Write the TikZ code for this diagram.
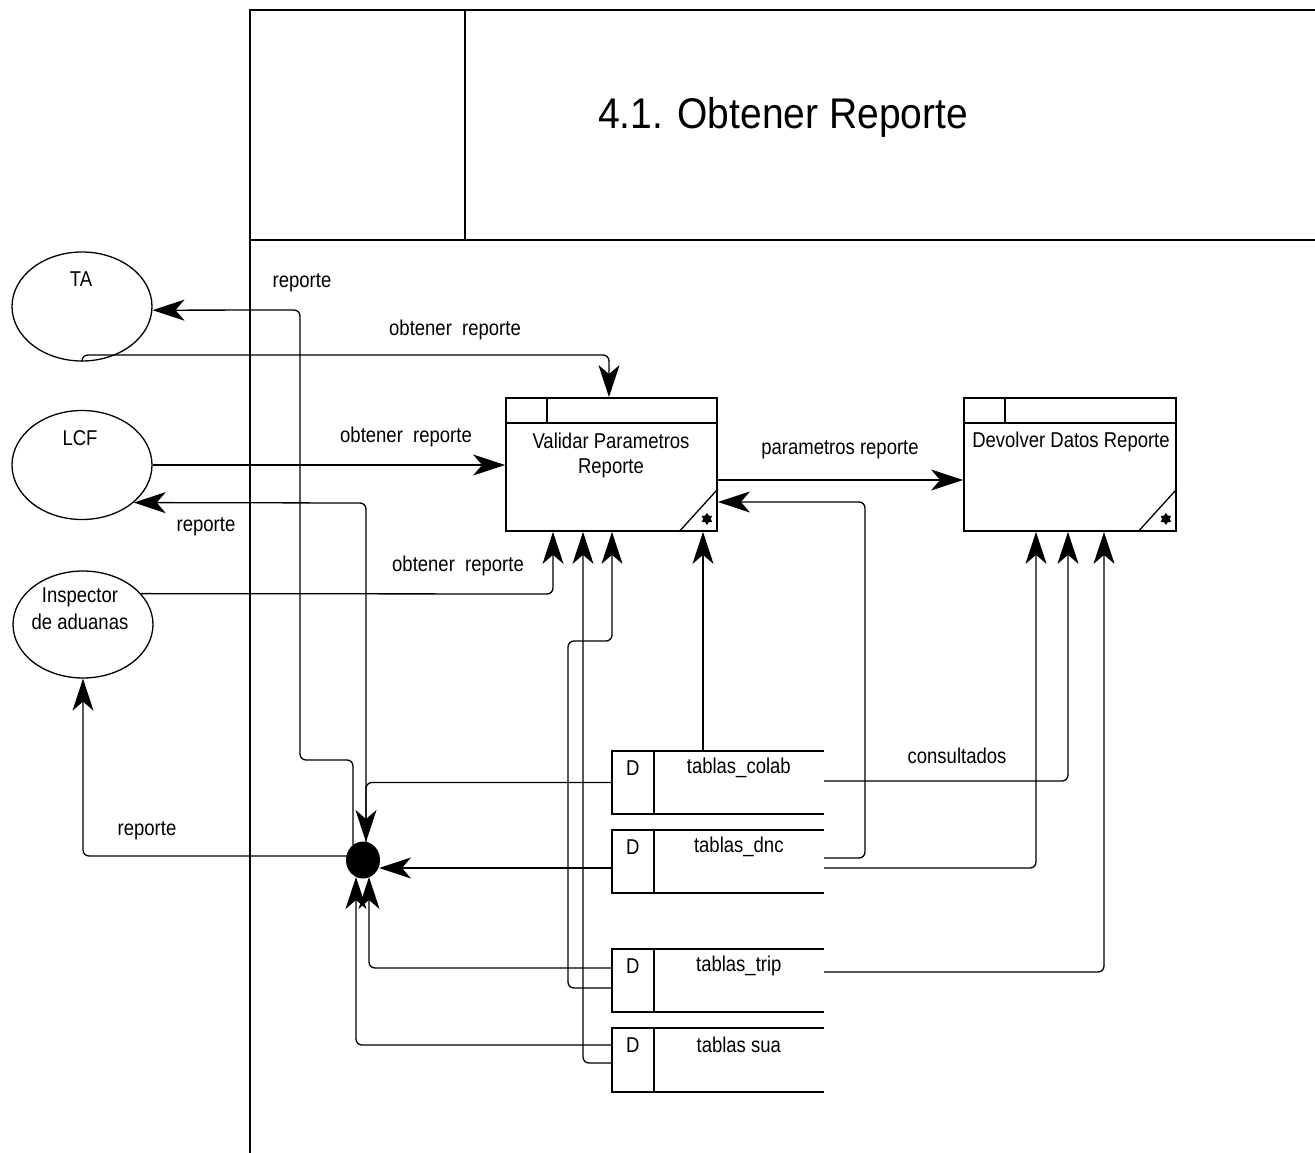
\documentclass[tikz,border=0pt]{standalone}
\usepackage{fontspec}
\setmainfont{Liberation Sans}
\usepackage{graphicx}
\usetikzlibrary{arrows.meta,shapes.geometric,calc}
% slightly taller glyphs, as in the original drawing tool
\newcommand{\tallt}[1]{\scalebox{1}[1.16]{#1}}
\tikzset{
  lbl/.style={font=\fontsize{18.5}{22}\selectfont, inner sep=0pt},
  flow/.style={line width=1.3pt, rounded corners=6pt, -{Stealth[length=32pt,width=21pt,inset=9pt]}},
  entity/.style={ellipse, draw, line width=1.3pt, minimum width=140pt, minimum height=109pt, inner sep=0pt},
  procbox/.style={rectangle, draw, line width=1.8pt, minimum width=211pt, minimum height=133pt, inner sep=0pt},
  procline/.style={line width=1.8pt},
  storebox/.style={rectangle, minimum width=212pt, minimum height=63pt, inner sep=0pt},
  storeline/.style={line width=1.8pt},
  frameline/.style={line width=2.2pt},
  junction/.style={circle, fill=black, minimum size=35pt, inner sep=0pt},
  cornerstar/.style={star, star points=6, star point ratio=1.6, fill=black, minimum size=12pt, inner sep=0pt},
}
\begin{document}
\begin{tikzpicture}[x=1pt, y=-1pt]
\useasboundingbox (0,0) rectangle (1315,1153);

% frame and title block
\draw[frameline] (250,1153) -- (250,10) -- (1315,10);
\draw[frameline] (465,10) -- (465,240);
\draw[frameline] (250,240) -- (1315,240);
\node[font=\fontsize{39}{44}\selectfont, inner sep=0pt] (title) at (783,117) {\scalebox{1}[1.1]{4.1. Obtener Reporte}};

% external entities
\node[entity] (TA)   at (82,306.5) {};
\node[entity] (LCF)  at (82,465) {};
\node[entity, minimum height=107pt] (Insp) at (83,624.5) {};
\node[lbl] (tTA)   at (81,279) {\tallt{TA}};
\node[lbl] (tLCF)  at (80,438) {\tallt{LCF}};
\node[lbl] (tIns1) at (80,597) {\tallt{Inspector}};
\node[lbl] (tIns2) at (80,622) {\tallt{de aduanas}};

% processes
\node[procbox] (vp) at (611.5,464.5) {};
\node[procbox, minimum width=212pt] (dd) at (1070,464.5) {};
\foreach \p in {vp,dd}{
  \draw[procline] ($(\p.north west)+(0,26)$) -- ($(\p.north east)+(0,26)$);
  \draw[procline] ($(\p.north west)+(42,0)$) -- ($(\p.north west)+(42,26)$);
  \draw[line width=1.3pt] ($(\p.south east)+(-39,0)$) -- ($(\p.south east)+(0,-43)$);
  \node[cornerstar] at ($(\p.south east)+(-11,-13)$) {};
}
\node[lbl] (tvp1) at (611,441) {\tallt{Validar Parametros}};
\node[lbl] (tvp2) at (611,468) {\tallt{Reporte}};
\node[lbl] (tdd)  at (1071,442) {\tallt{Devolver Datos Reporte}};

% data stores
\node[storebox] (colab) at (718,782.5) {};
\node[storebox] (dnc)   at (718,861.5) {};
\node[storebox] (trip)  at (718,980.5) {};
\node[storebox] (sua)   at (718,1060) {};
\foreach \s/\t in {colab/tablas\_colab, dnc/tablas\_dnc, trip/tablas\_trip, sua/tablas sua}{
  \draw[storeline] (\s.north east) -- (\s.north west) -- (\s.south west) -- (\s.south east);
  \draw[storeline] ($(\s.north west)+(42,0)$) -- ($(\s.south west)+(42,0)$);
  \node[lbl] at ($(\s.north west)+(21,17)$) {\tallt{D}};
  \node[lbl] at ($(\s.north west)+(127,17)$) {\tallt{\t}};
}

% junction
\coordinate (jc) at (363,860);

% flows from the entities into the first process
\draw[flow] (TA.south) -- (TA.south |- 0,355) -- (609,355) -- (vp.north -| 609,0);
\draw[flow] (LCF.east) -- (LCF.east -| vp.west);
\draw[flow] (Insp.28) -- (553,594) -- (vp.south -| 553,0);

% between the processes
\draw[flow] (vp.east |- 0,480) -- (dd.west |- 0,480);

% stores into the first process
\draw[flow] (colab.north -| 703,0) -- (vp.south -| 703,0);
\draw[flow] (dnc.east |- 0,858) -- (865,858) -- (865,502) -- (vp.east |- 0,502);
\draw[flow] (sua.west |- 0,1063) -- (583,1063) -- (vp.south -| 583,0);
\draw[flow] (trip.west |- 0,988) -- (568,988) -- (568,641) -- (612,641) -- (vp.south -| 612,0);

% stores into the second process
\draw[flow] (colab.east |- 0,781) -- (1068,781) -- (dd.south -| 1068,0);
\draw[flow] (dnc.east |- 0,868) -- (1036,868) -- (dd.south -| 1036,0);
\draw[flow] (trip.east |- 0,972) -- (1104,972) -- (dd.south -| 1104,0);

% stores into the junction
\draw[flow] (colab.west) -- (366,782.5) -- (366,842);
\draw[flow] (dnc.west |- 0,868) -- (379,868);
\draw[flow] (trip.west |- 0,968) -- (369,968) -- (369,877);
\draw[flow] (sua.west |- 0,1045) -- (356,1045) -- (356,877);

% junction out to the entities
\draw[flow] (353,845) -- (353,760) -- (300,760) -- (300,310) -- (TA.-3);
\draw[flow] (366,845) -- (366,503) -- (LCF.-36.7);
\draw[flow] (348,856) -- (83,856) -- (Insp.south);

\node[junction, minimum width=34pt, minimum height=37pt, ellipse] (dot) at (jc) {};

% flow labels
\node[lbl] (l1) at (302,283) {\tallt{reporte}};
\node[lbl] (l2) at (455,330) {\tallt{obtener\ \ reporte}};
\node[lbl] (l3) at (406,437) {\tallt{obtener\ \ reporte}};
\node[lbl] (l4) at (206,527) {\tallt{reporte}};
\node[lbl] (l5) at (458,566) {\tallt{obtener\ \ reporte}};
\node[lbl] (l6) at (147,831) {\tallt{reporte}};
\node[lbl] (l7) at (840,450) {\tallt{parametros reporte}};
\node[lbl] (l8) at (957,756) {\tallt{consultados}};
\end{tikzpicture}
\end{document}
